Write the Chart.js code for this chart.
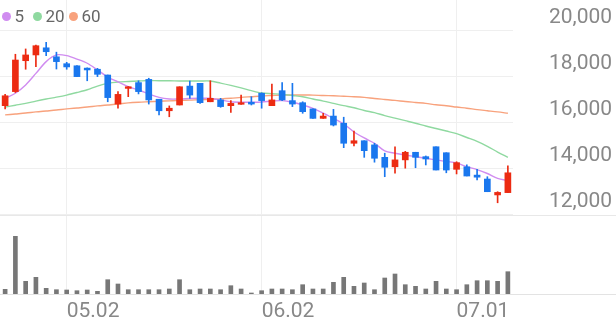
<!DOCTYPE html>
<html><head><meta charset="utf-8">
<script src="https://cdn.jsdelivr.net/npm/chart.js@4"></script>
<style>
html,body{margin:0;padding:0;background:#fff;}
#wrap{position:relative;width:616px;height:321px;overflow:hidden;}
#legend{position:absolute;left:0;top:0;font:17px Roboto,sans-serif;color:#666;}
.item{position:absolute;top:7px;height:18px;display:flex;align-items:center;white-space:nowrap;line-height:18px;}
.dot{width:9px;height:9px;border-radius:50%;margin-right:4px;flex:none;}
</style></head><body>
<div id="wrap"><canvas id="c" width="616" height="321"></canvas><div id="legend"></div></div>
<script>
const dates = ['04.23','04.24','04.25','04.28','04.29','04.30','05.02','05.07','05.08','05.09',
  '05.12','05.13','05.14','05.15','05.16','05.19','05.20','05.21','05.22','05.23',
  '05.26','05.27','05.28','05.29','05.30','06.02','06.04','06.05','06.09','06.10',
  '06.11','06.12','06.13','06.16','06.17','06.18','06.19','06.20','06.23','06.24',
  '06.25','06.26','06.27','06.30','07.01','07.02','07.03','07.04','07.07','07.08'];
const open  = [16740,17350,18690,18940,19250,18860,18560,18470,18370,18320,18070,16810,17490,17740,17880,17020,16520,16770,17590,17710,16910,16990,16740,16800,16890,17280,16740,17390,16960,16870,16600,16190,16290,15980,15110,15220,15040,14500,14090,14390,14720,14530,14960,14700,13980,14090,13730,13560,12870,12970];
const high  = [17230,18970,19200,19370,19490,19060,18620,18480,18380,18360,18070,17350,17570,17820,17930,17020,16730,17560,17810,17710,17820,17060,16960,17200,17130,17300,17680,17740,17710,16910,16600,16410,16580,16240,15640,15220,15110,14680,14960,14760,14720,14560,14960,14700,14310,14170,13980,13660,13010,14130];
const low   = [16600,17310,18320,18430,18910,18330,18320,18000,17820,18000,16910,16630,17130,17250,16810,16340,16260,16770,17060,16840,16910,16670,16450,16800,16770,16630,16740,16960,16700,16410,16190,16190,15860,14920,15000,14500,14290,13660,13810,14030,14050,14170,13950,13830,13780,13690,13520,13010,12530,12970];
const close = [17170,18720,18940,19340,19080,18650,18420,18000,18290,18100,17090,17230,17560,17350,16990,16520,16630,17560,17200,16870,17060,16700,16840,16870,16810,16960,16990,16990,16810,16480,16190,16290,15900,15110,15220,14790,14460,14070,14390,14720,14500,14430,13950,13950,14270,13690,13640,13010,12980,13830];
const volume = [4700,57700,12700,16700,5700,4300,4000,3300,4000,2700,14300,10000,4300,4300,4300,4300,5000,14300,4300,5000,5000,4300,8300,5000,1000,3300,5000,5000,4300,9300,5000,5000,11700,16700,7700,11000,4300,16000,20000,9300,7700,5000,12700,5000,4300,9300,13300,13300,12700,22300];
const ma5  = [17060,17280,17640,18140,18650,18940,18910,18760,18580,18290,17980,17770,17560,17420,17250,17100,17030,17030,17050,17060,17060,16990,16910,16890,16890,16900,16940,16960,16890,16770,16620,16420,16190,15950,15600,15340,15110,14780,14680,14600,14530,14460,14390,14320,14260,14090,13970,13800,13590,13490];
const ma20 = [16680,16760,16840,16940,17030,17110,17200,17310,17430,17590,17710,17770,17790,17810,17830,17820,17820,17810,17810,17810,17810,17720,17620,17510,17390,17290,17260,17230,17180,17130,17030,16940,16840,16740,16650,16530,16440,16310,16200,16090,15980,15860,15750,15640,15530,15360,15190,14980,14730,14500];
const ma60 = [16340,16380,16420,16470,16510,16550,16600,16640,16680,16730,16770,16810,16860,16890,16910,16930,16950,16970,16980,17000,17010,17030,17060,17100,17130,17160,17180,17200,17200,17200,17200,17180,17170,17150,17130,17100,17050,17010,16970,16920,16880,16840,16780,16740,16680,16630,16570,16520,16470,16410];
const maNames = ['5','20','60'];
const tickLabels = ['05.02','06.02','07.01'];
const priceTicks = [12000,14000,16000,18000,20000];

const maColors = ['#d08cf0','#8fd9a0','#f8a27d'];
const UP = '#ec2b12', DOWN = '#1a77ee';
const dirColor = i => close[i] >= open[i] ? UP : DOWN;

// legend (HTML text)
const legendPos = [1.5, 32.5, 68.5];
const lg = document.getElementById('legend');
maNames.forEach((n, k) => {
  const it = document.createElement('div');
  it.className = 'item';
  it.style.left = legendPos[k] + 'px';
  const d = document.createElement('span');
  d.className = 'dot'; d.style.background = maColors[k];
  const t = document.createElement('span'); t.textContent = n;
  it.appendChild(d); it.appendChild(t); lg.appendChild(it);
});

const sepLines = {
  id: 'sepLines',
  beforeDatasetsDraw(chart) {
    const {ctx, scales: {y}, chartArea} = chart;
    ctx.save();
    ctx.lineWidth = 1;
    ctx.strokeStyle = '#e8e8e8';
    const y1 = Math.round(y.getPixelForValue(priceTicks[0])) + 0.5;
    ctx.beginPath(); ctx.moveTo(0, y1); ctx.lineTo(chart.width, y1); ctx.stroke();
    ctx.strokeStyle = '#e3e3e3';
    const y2 = Math.round(chartArea.bottom) + 0.5;
    ctx.beginPath(); ctx.moveTo(0, y2); ctx.lineTo(chart.width, y2); ctx.stroke();
    ctx.restore();
  }
};

const lineDs = (data, k) => ({
  type: 'line', label: maNames[k], data, borderColor: maColors[k], borderWidth: 1.4,
  pointRadius: 0, tension: 0.3, fill: false, order: 5 + k, yAxisID: 'y'
});

new Chart(document.getElementById('c'), {
  data: {
    labels: dates,
    datasets: [
      lineDs(ma5, 0), lineDs(ma20, 1), lineDs(ma60, 2),
      { type: 'bar', label: 'wick', data: low.map((l, i) => [l, high[i]]),
        backgroundColor: c => dirColor(c.dataIndex), barThickness: 1, grouped: false, order: 2, yAxisID: 'y' },
      { type: 'bar', label: 'body', data: open.map((o, i) => [o, close[i]]),
        backgroundColor: c => dirColor(c.dataIndex), barThickness: 6, minBarLength: 1, grouped: false, order: 1, yAxisID: 'y' },
      { type: 'bar', label: 'volume', data: volume, backgroundColor: '#777777',
        barThickness: 4, grouped: false, order: 9, yAxisID: 'yv' }
    ]
  },
  options: {
    responsive: false, animation: false, devicePixelRatio: 1,
    layout: { padding: 0 },
    plugins: { legend: { display: false }, tooltip: { enabled: false } },
    scales: {
      x: {
        type: 'category', offset: true,
        grid: { offset: false, drawTicks: false,
          color: c => (c.tick && tickLabels.includes(dates[c.index])) ? '#efefef' : 'rgba(0,0,0,0)' },
        border: { display: false },
        ticks: { autoSkip: false, maxRotation: 0, minRotation: 0, align: 'start', padding: 5,
          color: '#888', font: { family: 'Roboto', size: 21 },
          callback: (v, i) => tickLabels.includes(dates[i]) ? dates[i] : '' },
        afterFit: s => { s.height = 27; s.paddingLeft = 0; s.paddingRight = 0; }
      },
      y: {
        position: 'right', min: 8574.5, max: 21322.5,
        afterBuildTicks: s => { s.ticks = priceTicks.map(v => ({ value: v })); },
        grid: { color: '#efefef', drawTicks: false },
        border: { display: false },
        ticks: { crossAlign: 'near', padding: 36, labelOffset: -13, color: '#888',
          font: { family: 'Roboto', size: 21 },
          callback: v => v.toLocaleString('en-US') },
        afterFit: s => { s.width = 103; s.paddingTop = 0; s.paddingBottom = 0; }
      },
      yv: { display: false, min: 0, max: 294000 }
    }
  },
  plugins: [sepLines]
});
</script>
</body></html>
